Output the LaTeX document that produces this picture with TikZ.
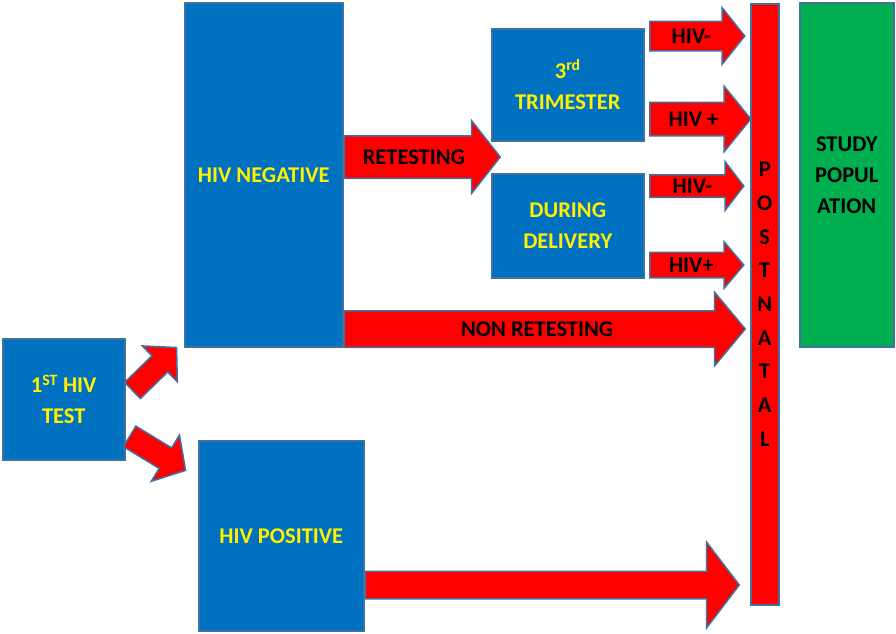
\documentclass[tikz,border=0pt]{standalone}
\usepackage{fontspec}
\setmainfont{Carlito}
\usetikzlibrary{shapes.arrows,positioning}
\definecolor{boxblue}{HTML}{0070C0}
\definecolor{edgeblue}{HTML}{41719C}
\definecolor{popgreen}{HTML}{00B050}
\begin{document}
\begin{tikzpicture}[x=1pt, y=-1pt,
  font=\fontsize{22.5}{31}\selectfont\bfseries,
  box/.style={draw=edgeblue, line width=1.5pt, fill=boxblue, text=yellow,
              align=center, anchor=north west, inner sep=0pt},
  gbox/.style={box, fill=popgreen, text=black},
  rbar/.style={box, fill=red, text=black},
  barr/.style={single arrow, draw=edgeblue, line width=1.5pt, fill=red,
               anchor=tail, inner sep=0pt, text=black},
  shaft/.style={text height={(#1+14.5pt)/2}, text depth={(#1-14.5pt)/2}}]
\path[use as bounding box, fill=white] (0,0) rectangle (896,633);
% ---- boxes ----
\node[box, minimum width=122pt, minimum height=121pt] (test1) at (2,338)
  {1\textsuperscript{ST} HIV\\TEST};
\node[box, minimum width=158pt, minimum height=344pt] (neg) at (184,2)
  {HIV NEGATIVE};
\node[box, minimum width=165pt, minimum height=190pt] (pos) at (198,440)
  {HIV POSITIVE};
\node[box, minimum width=152pt, minimum height=112pt] (trim) at (491,28)
  {3\textsuperscript{rd}\\TRIMESTER};
\node[box, minimum width=152pt, minimum height=104pt] (deliv) at (491,173)
  {DURING\\DELIVERY};
\node[rbar, minimum width=28pt, minimum height=601pt,
      font=\fontsize{22.5}{33.7}\selectfont\bfseries] (post) at (750,3)
  {P\\O\\S\\T\\N\\A\\T\\A\\L};
\node[gbox, minimum width=94pt, minimum height=344pt] (study) at (799,2)
  {STUDY\\POPUL\\ATION};
% ---- first test ----
\node[barr, shaft=21pt, minimum height=61.5pt, minimum width=48.6pt,
      single arrow head extend=13.8pt, single arrow tip angle=94,
      rotate=44.3] (up) at (132,391) {};
\node[barr, shaft=22.5pt, minimum height=65.5pt, minimum width=52.5pt,
      single arrow head extend=15pt, single arrow tip angle=97.6,
      rotate=-31.3] (down) at (129,436) {};
% ---- negative branch ----
\node[barr, shaft=41pt, minimum height=156pt, minimum width=71pt,
      single arrow head extend=15pt, single arrow tip angle=103.5]
  (retest) at (neg.east |- 0,157) {RETESTING};
\node[barr, shaft=35pt, minimum height=401pt, minimum width=72pt,
      single arrow head extend=18.5pt, single arrow tip angle=100.4]
  (nonret) at (neg.east |- 0,329) {NON RETESTING};
\node[barr, shaft=28pt, minimum height=95pt, minimum width=55pt,
      single arrow head extend=13.5pt, single arrow tip angle=102.7]
  (tneg) at (649,36) {HIV-};
\node[barr, shaft=32pt, minimum height=101pt, minimum width=64pt,
      single arrow head extend=16pt, single arrow tip angle=101.8]
  (tpos) at (649,119) {HIV +};
\node[barr, shaft=21pt, minimum height=94pt, minimum width=47pt,
      single arrow head extend=13pt, single arrow tip angle=105]
  (dneg) at (649,186) {HIV-};
\node[barr, shaft=24pt, minimum height=94pt, minimum width=45pt,
      single arrow head extend=10.5pt, single arrow tip angle=99.6]
  (dpos) at (649,265) {HIV+};
% ---- positive branch ----
\node[barr, shaft=26pt, minimum height=374pt, minimum width=84pt,
      single arrow head extend=29pt, single arrow tip angle=105.4]
  (posarr) at (pos.east |- 0,585) {};
\end{tikzpicture}
\end{document}
